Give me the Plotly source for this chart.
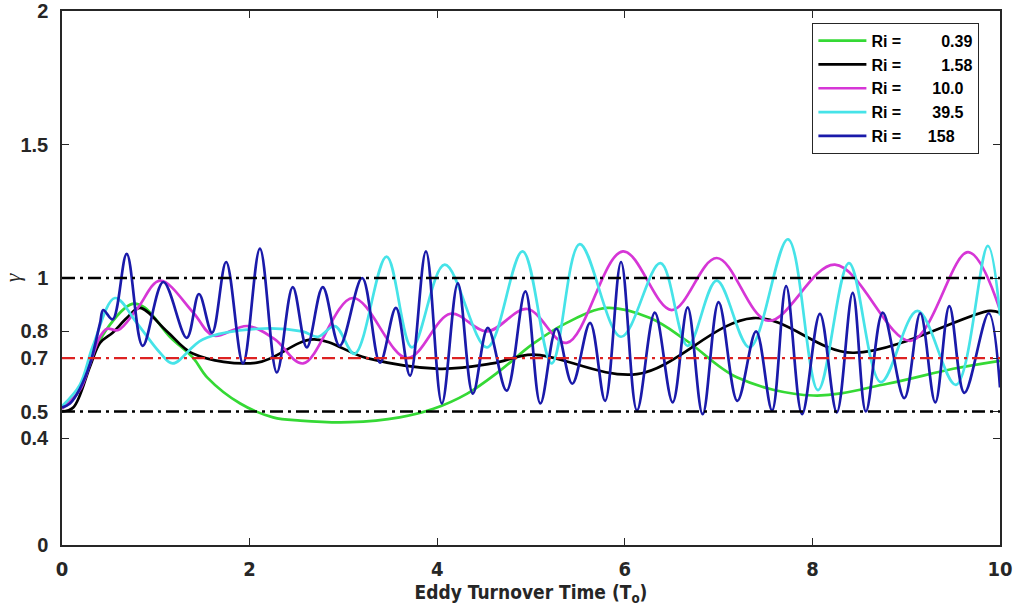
import plotly.graph_objects as go

# Time axis in eddy turnover times (T_o) and the mixing efficiency gamma
# for five Richardson numbers.

NB = "\u00a0"
ri_labels = ["Ri =" + NB * 9 + "0.39", "Ri =" + NB * 9 + "1.58",
             "Ri =" + NB * 7 + "10.0", "Ri =" + NB * 7 + "39.5",
             "Ri =" + NB * 6 + "158"]
colors = ["#35d935", "#000000", "#d636d6", "#46e3e8", "#1a1aaa"]

t_039 = [0.0, 0.19, 0.30, 0.46, 0.75, 0.88, 1.15, 1.40, 1.55, 1.90, 2.25, 2.54,
         3.07, 3.60, 3.96, 4.32, 4.67, 5.02, 5.38, 5.81, 6.27, 6.66, 7.20, 8.01,
         8.80, 9.50, 10.0]
g_039 = [0.51, 0.58, 0.68, 0.80, 0.903, 0.89, 0.78, 0.70, 0.627, 0.53, 0.478, 0.466,
         0.46, 0.478, 0.51, 0.567, 0.653, 0.753, 0.832, 0.888, 0.85, 0.765, 0.627, 0.56,
         0.604, 0.66, 0.69]

t_158 = [0.0, 0.12, 0.30, 0.405, 0.54, 0.69, 0.83, 1.12, 1.40, 2.08, 2.68, 3.25,
         4.03, 4.59, 5.02, 6.13, 7.37, 8.43, 9.89, 10.0]
g_158 = [0.50, 0.515, 0.67, 0.757, 0.795, 0.85, 0.888, 0.80, 0.716, 0.683, 0.77, 0.70,
         0.66, 0.68, 0.713, 0.64, 0.85, 0.72, 0.877, 0.87]

t_10 = [0.0, 0.19, 0.30, 0.405, 0.48, 0.60, 0.80, 1.045, 1.40, 1.61, 1.98, 2.27,
        2.57, 3.10, 3.68, 4.14, 4.53, 4.96, 5.38, 5.98, 6.50, 6.98, 7.53, 8.24,
        9.05, 9.66, 10.0]
g_10 = [0.51, 0.58, 0.68, 0.78, 0.81, 0.805, 0.884, 0.99, 0.87, 0.785, 0.82, 0.77,
        0.68, 0.925, 0.70, 0.866, 0.80, 0.884, 0.757, 1.10, 0.88, 1.075, 0.84, 1.05,
        0.765, 1.097, 0.88]

t_395 = [0.0, 0.19, 0.33, 0.565, 0.80, 1.045, 1.18, 1.50, 2.09, 2.56, 2.73, 2.91,
         3.12, 3.46, 3.73, 4.08, 4.53, 4.91, 5.22, 5.52, 5.96, 6.38, 6.67, 6.98,
         7.33, 7.74, 8.06, 8.39, 8.73, 9.12, 9.53, 9.87, 10.0]
g_395 = [0.52, 0.60, 0.746, 0.925, 0.83, 0.72, 0.68, 0.77, 0.81, 0.80, 0.78, 0.82,
         0.716, 1.08, 0.74, 1.05, 0.74, 1.10, 0.68, 1.127, 0.78, 1.056, 0.746, 0.99,
         0.74, 1.145, 0.58, 1.056, 0.61, 0.877, 0.60, 1.12, 0.86]

t_1580 = [0.0, 0.085, 0.19, 0.30, 0.405, 0.44, 0.54, 0.69, 0.86, 1.08, 1.33, 1.46,
          1.60, 1.75, 1.93, 2.11, 2.29, 2.46, 2.61, 2.78, 2.96, 3.20, 3.39, 3.56,
          3.71, 3.88, 4.05, 4.22, 4.38, 4.54, 4.74, 4.94, 5.10, 5.27, 5.44, 5.63,
          5.79, 5.96, 6.13, 6.32, 6.51, 6.67, 6.83, 7.00, 7.20, 7.40, 7.57, 7.72,
          7.89, 8.08, 8.26, 8.43, 8.57, 8.75, 8.98, 9.15, 9.31, 9.46, 9.62, 9.88, 10.0]
g_1580 = [0.515, 0.53, 0.585, 0.68, 0.83, 0.88, 0.845, 1.09, 0.746, 0.985, 0.776, 0.94,
          0.795, 1.06, 0.68, 1.11, 0.646, 0.966, 0.74, 0.966, 0.746, 1.0, 0.683, 0.888,
          0.634, 1.10, 0.53, 0.98, 0.567, 0.813, 0.578, 0.95, 0.53, 0.81, 0.604, 0.832,
          0.54, 1.06, 0.504, 0.87, 0.534, 0.89, 0.49, 0.91, 0.54, 0.80, 0.504, 0.97,
          0.49, 0.866, 0.497, 0.944, 0.50, 0.87, 0.55, 0.868, 0.534, 0.895, 0.57, 0.868, 0.59]

series_t = [t_039, t_158, t_10, t_395, t_1580]
series_g = [g_039, g_158, g_10, g_395, g_1580]

ref_levels = [1.0, 0.5, 0.7]
ref_colors = ["#000000", "#000000", "#dd2222"]

y_ticks = [0, 0.4, 0.5, 0.7, 0.8, 1, 1.5, 2]
y_ticktext = ["0", "0.4", "0.5", "0.7", "0.8", "1", "1.5", "2"]
x_ticks = [0, 2, 4, 6, 8, 10]

axis_color = "#262626"
narrow = "Liberation Sans Narrow, DejaVu Sans Condensed, Arial"

fig = go.Figure()
for label, color, t, g in zip(ri_labels, colors, series_t, series_g):
    fig.add_trace(go.Scatter(
        x=t, y=g, mode="lines", name=label,
        line=dict(color=color, width=2.7, shape="spline", smoothing=1.0),
    ))

for level, color in zip(ref_levels, ref_colors):
    fig.add_hline(y=level, line=dict(color=color, width=2.4, dash="13px,5px,3px,5px"),
                  layer="above")

fig.update_layout(
    width=1013, height=615,
    margin=dict(l=62, r=13, t=11, b=70),
    paper_bgcolor="white", plot_bgcolor="white",
    showlegend=True,
    legend=dict(
        x=0.8, y=0.978, xanchor="left", yanchor="top",
        bgcolor="white", bordercolor=axis_color, borderwidth=1,
        font=dict(family="Liberation Sans, Arial, sans-serif", size=16,
                  color="#000000", weight="bold"),
        tracegroupgap=0, itemwidth=48,
    ),
    xaxis=dict(
        range=[0, 10], tickvals=x_ticks, ticks="inside", ticklen=7,
        tickwidth=1.2, tickcolor=axis_color, showline=True, linecolor=axis_color,
        linewidth=1.5, mirror="ticks", showgrid=False, zeroline=False,
        automargin=False, ticklabeloverflow="allow",
        tickfont=dict(family=narrow, size=20, color="#262626", weight="bold"),
        ticklabelstandoff=5,
        title=dict(text="Eddy Turnover Time (T<sub>o</sub>)", standoff=6,
                   font=dict(family=narrow, size=19, color="#262626", weight="bold")),
    ),
    yaxis=dict(
        range=[0, 2], tickvals=y_ticks, ticktext=y_ticktext, ticks="inside",
        ticklen=7, tickwidth=1.2, tickcolor=axis_color, showline=True,
        linecolor=axis_color, linewidth=1.5, mirror="ticks", showgrid=False,
        zeroline=False, automargin=False, ticklabeloverflow="allow",
        tickfont=dict(family="Liberation Sans, Arial", size=20, color="#262626",
                      weight="bold"),
        ticklabelstandoff=8,
        title=dict(text="<i>γ</i>", standoff=0,
                   font=dict(family="Liberation Serif, DejaVu Serif, serif",
                             size=22, color="#262626")),
    ),
)

fig.write_html("out.html")
